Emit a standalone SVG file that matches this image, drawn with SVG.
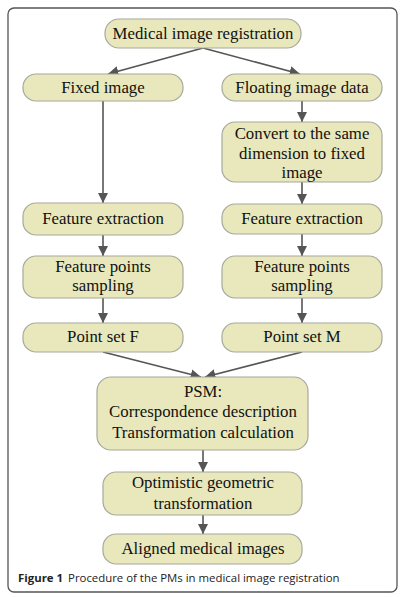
<svg xmlns="http://www.w3.org/2000/svg" width="406" height="597" viewBox="0 0 406 597">
<style>
.n{fill:#e8e8bc;stroke:#a8a89c;stroke-width:1.2}
.t{font-family:"Liberation Serif","Times New Roman",serif;font-size:16.8px;fill:#111;text-anchor:middle}
.c{stroke:#555;stroke-width:1.6;fill:none;marker-end:url(#ah)}
.cap{font-family:"Open Sans","Noto Sans",sans-serif;font-size:11.4px;fill:#222}
</style>
<defs>
<marker id="ah" viewBox="0 0 10 10" refX="10" refY="5" markerWidth="6.5" markerHeight="6.5" markerUnits="strokeWidth" orient="auto">
<path d="M0,0 L10,5 L0,10 z" fill="#555"/>
</marker>
</defs>
<rect x="0" y="0" width="406" height="597" fill="#fff"/>
<rect x="8" y="8" width="389" height="584" rx="6" fill="none" stroke="#555" stroke-width="1.3"/>
<g id="connectors">
<line class="c" x1="203" y1="48" x2="108" y2="74"/>
<line class="c" x1="203" y1="48" x2="300" y2="74"/>
<line class="c" x1="103" y1="101" x2="103" y2="203"/>
<line class="c" x1="302" y1="101" x2="302" y2="122"/>
<line class="c" x1="302" y1="182" x2="302" y2="204"/>
<line class="c" x1="103" y1="235" x2="103" y2="256"/>
<line class="c" x1="302" y1="234" x2="302" y2="256"/>
<line class="c" x1="103" y1="298" x2="103" y2="323"/>
<line class="c" x1="302" y1="298" x2="302" y2="323"/>
<line class="c" x1="103" y1="352" x2="201" y2="377"/>
<line class="c" x1="302" y1="352" x2="205" y2="377"/>
<line class="c" x1="203" y1="450" x2="203" y2="472"/>
<line class="c" x1="203" y1="515" x2="203" y2="534"/>
</g>
<g id="n1"><rect class="n" x="105" y="19" width="196" height="29" rx="14"/><text class="t" x="203" y="39">Medical image registration</text></g>
<g id="n2"><rect class="n" x="23" y="74" width="160" height="27" rx="13"/><text class="t" x="103" y="93">Fixed image</text></g>
<g id="n3"><rect class="n" x="222" y="74" width="160" height="27" rx="13"/><text class="t" x="302" y="93">Floating image data</text></g>
<g id="n4"><rect class="n" x="222" y="122" width="160" height="60" rx="13"/><text class="t" x="302" y="139">Convert to the same</text><text class="t" x="302" y="159">dimension to fixed</text><text class="t" x="302" y="178">image</text></g>
<g id="n5"><rect class="n" x="23" y="203" width="160" height="32" rx="13"/><text class="t" x="103" y="224">Feature extraction</text></g>
<g id="n6"><rect class="n" x="222" y="204" width="160" height="30" rx="13"/><text class="t" x="302" y="224">Feature extraction</text></g>
<g id="n7"><rect class="n" x="23" y="256" width="160" height="42" rx="13"/><text class="t" x="103" y="272">Feature points</text><text class="t" x="103" y="291">sampling</text></g>
<g id="n8"><rect class="n" x="222" y="256" width="160" height="42" rx="13"/><text class="t" x="302" y="272">Feature points</text><text class="t" x="302" y="291">sampling</text></g>
<g id="n9"><rect class="n" x="23" y="323" width="160" height="29" rx="13"/><text class="t" x="103" y="342">Point set F</text></g>
<g id="n10"><rect class="n" x="222" y="323" width="160" height="29" rx="13"/><text class="t" x="302" y="342">Point set M</text></g>
<g id="n11"><rect class="n" x="97" y="377" width="211" height="73" rx="14"/><text class="t" x="203" y="397">PSM:</text><text class="t" x="203" y="417">Correspondence description</text><text class="t" x="203" y="438">Transformation calculation</text></g>
<g id="n12"><rect class="n" x="103" y="472" width="199" height="43" rx="13"/><text class="t" x="203" y="488">Optimistic geometric</text><text class="t" x="203" y="509">transformation</text></g>
<g id="n13"><rect class="n" x="103" y="534" width="199" height="30" rx="13"/><text class="t" x="203" y="554">Aligned medical images</text></g>
<text class="cap" x="18" y="582"><tspan font-weight="bold">Figure 1</tspan><tspan dx="5">Procedure of the PMs in medical image registration</tspan></text>
</svg>
